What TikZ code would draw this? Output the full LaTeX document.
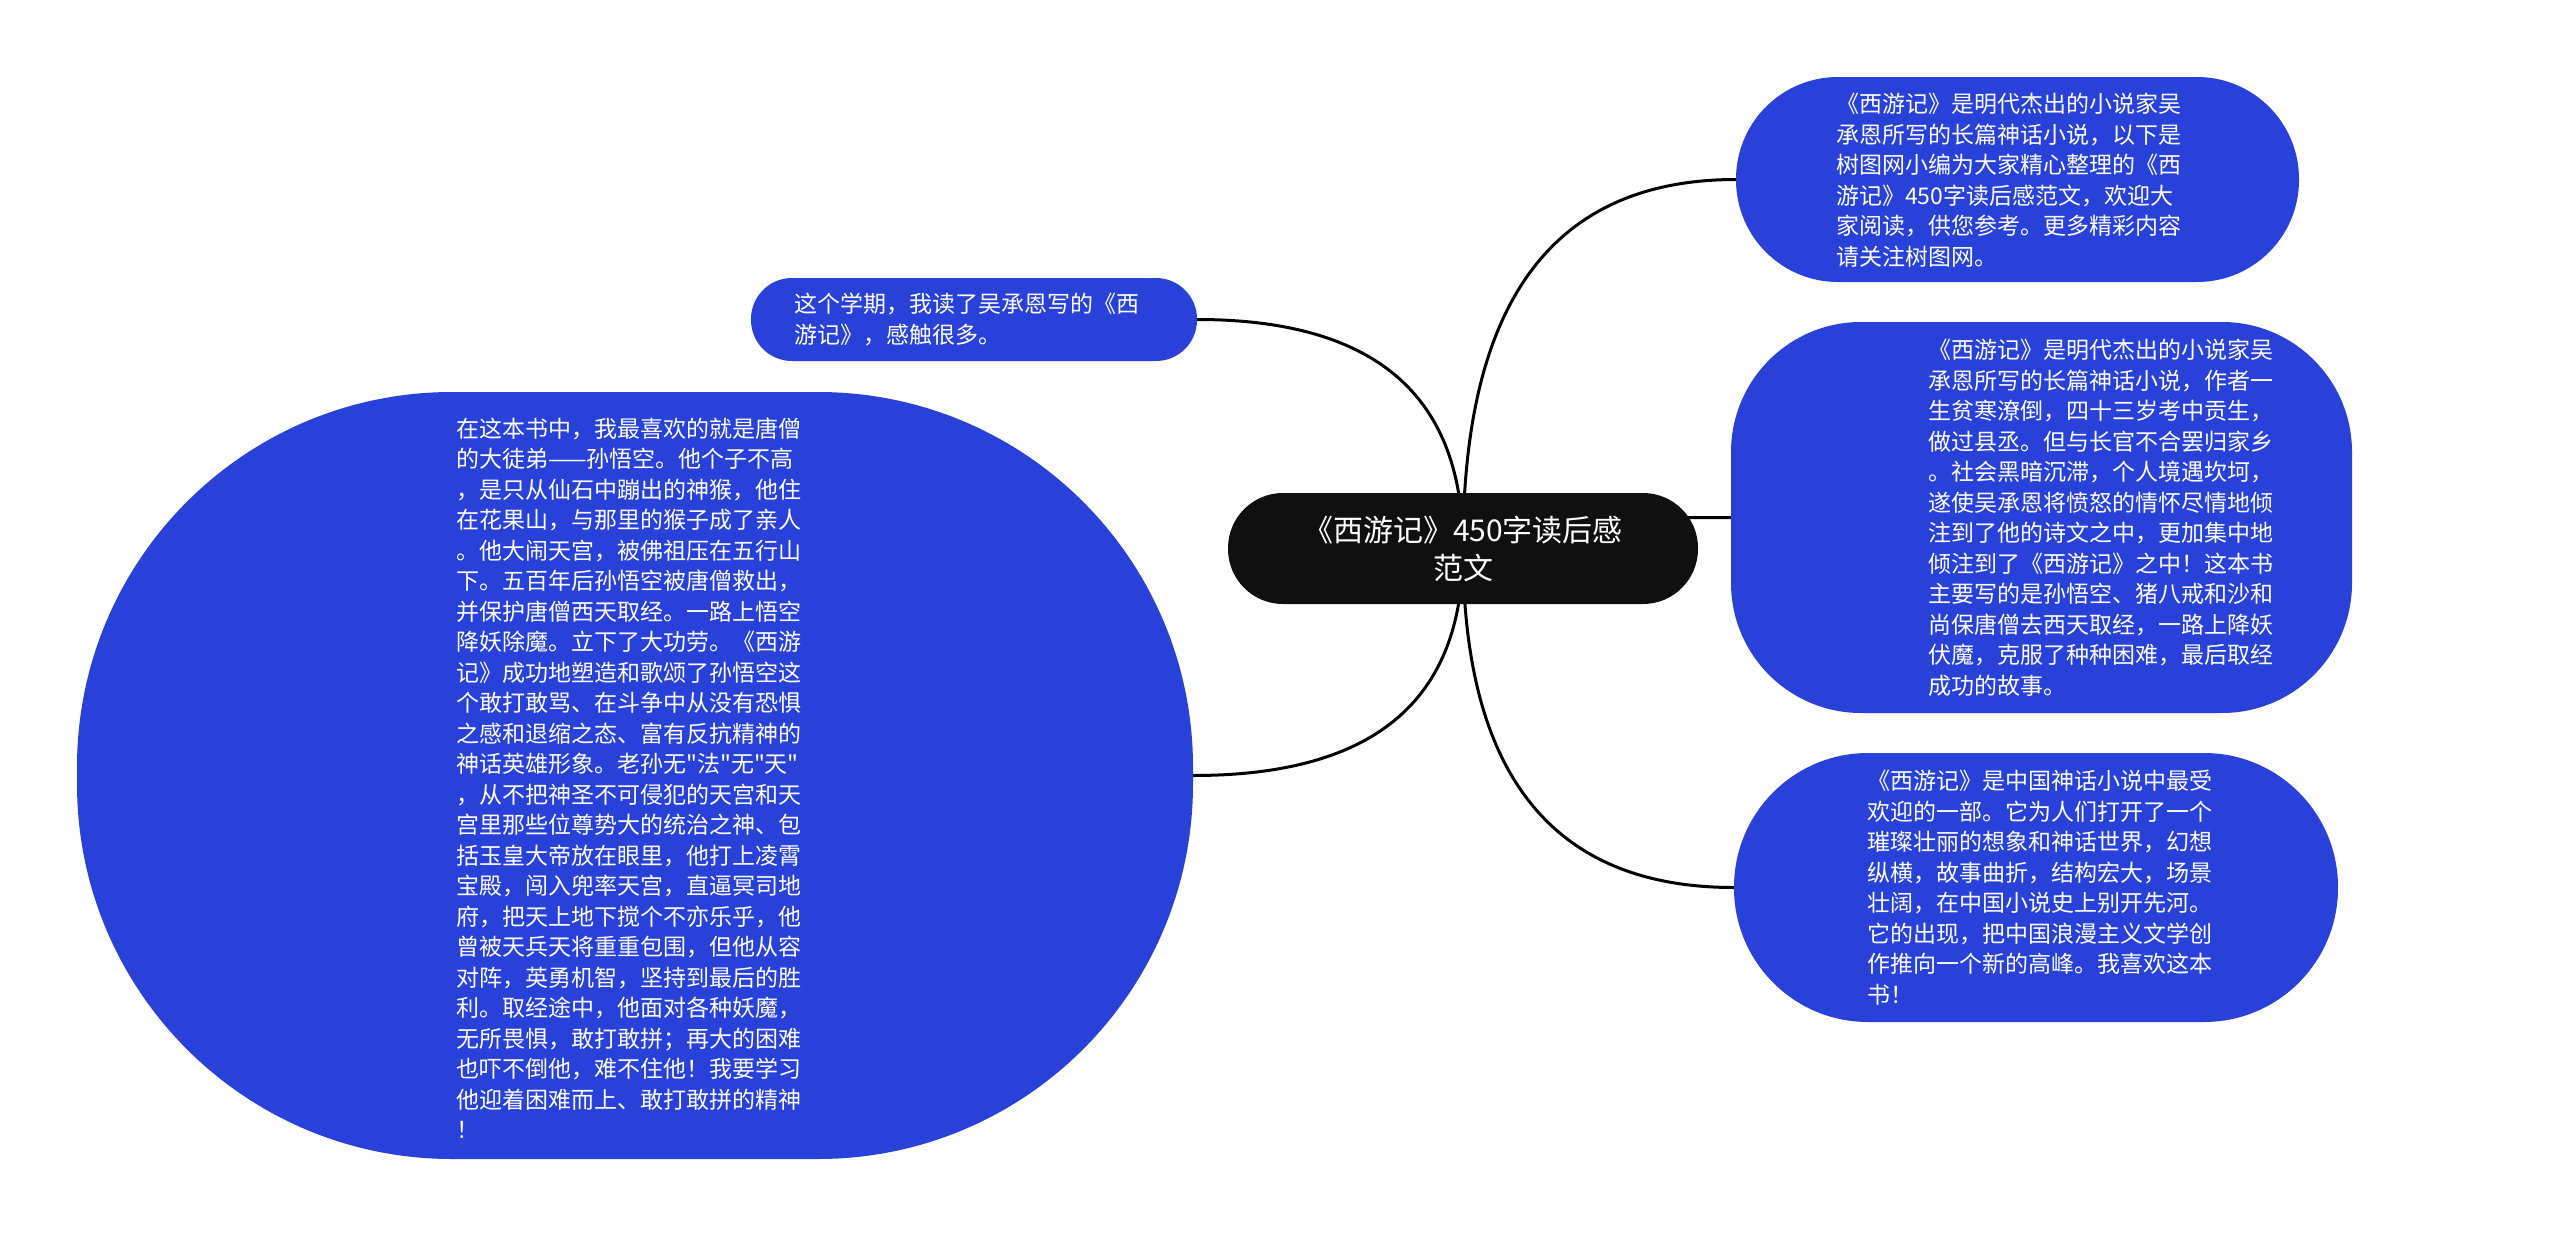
\documentclass[tikz,border=0pt]{standalone}
\usepackage{fontspec}
\setmainfont{Noto Sans CJK SC}
\newfontfamily\cjk{Noto Sans CJK SC}
\usetikzlibrary{backgrounds}
\definecolor{nodeblue}{RGB}{39,65,217}
\definecolor{rootblack}{RGB}{16,16,16}
\tikzset{
  bubble/.style={fill=nodeblue, draw=none, inner sep=0pt, shape=rectangle},
  rootbox/.style={fill=rootblack, draw=none, inner sep=0pt, text=white, align=center,
                  font=\cjk\fontsize{30}{38}\selectfont},
  bodytext/.style={text=white, align=left, inner sep=0pt, anchor=west,
                   font=\cjk\fontsize{23}{30.5}\selectfont},
  link/.style={draw=black, line width=3pt},
}
\begin{document}
\begin{tikzpicture}[x=1pt, y=-1pt]
\useasboundingbox (0,0) rectangle (2560,1237);

% root
\node[rootbox, minimum width=470pt, minimum height=111pt, rounded corners=55pt] (root) at (1463,548.5) {《西游记》450字读后感\\范文};

% top-left
\node[bubble, minimum width=446pt, minimum height=83pt, rounded corners=41pt] (tl) at (974,319.5) {};
\node[bodytext] (tlt) at (794,319.5) {这个学期，我读了吴承恩写的《西\\游记》，感触很多。};

% big left
\node[bubble, minimum width=1116pt, minimum height=767pt, rounded corners=375pt] (big) at (635,775.5) {};
\node[bodytext] (bigt) at (456,778) {在这本书中，我最喜欢的就是唐僧\\
的大徒弟——孙悟空。他个子不高\\
，是只从仙石中蹦出的神猴，他住\\
在花果山，与那里的猴子成了亲人\\
。他大闹天宫，被佛祖压在五行山\\
下。五百年后孙悟空被唐僧救出，\\
并保护唐僧西天取经。一路上悟空\\
降妖除魔。立下了大功劳。《西游\\
记》成功地塑造和歌颂了孙悟空这\\
个敢打敢骂、在斗争中从没有恐惧\\
之感和退缩之态、富有反抗精神的\\
神话英雄形象。老孙无"法"无"天"\\
，从不把神圣不可侵犯的天宫和天\\
宫里那些位尊势大的统治之神、包\\
括玉皇大帝放在眼里，他打上凌霄\\
宝殿，闯入兜率天宫，直逼冥司地\\
府，把天上地下搅个不亦乐乎，他\\
曾被天兵天将重重包围，但他从容\\
对阵，英勇机智，坚持到最后的胜\\
利。取经途中，他面对各种妖魔，\\
无所畏惧，敢打敢拼；再大的困难\\
也吓不倒他，难不住他！我要学习\\
他迎着困难而上、敢打敢拼的精神\\
！};

% top-right
\node[bubble, minimum width=563pt, minimum height=205pt, rounded corners=102pt] (tr) at (2017.5,179.5) {};
\node[bodytext] (trt) at (1836,180) {《西游记》是明代杰出的小说家吴\\
承恩所写的长篇神话小说，以下是\\
树图网小编为大家精心整理的《西\\
游记》450字读后感范文，欢迎大\\
家阅读，供您参考。更多精彩内容\\
请关注树图网。};

% middle-right
\node[bubble, minimum width=621pt, minimum height=391pt, rounded corners=130pt] (mr) at (2041.5,517.5) {};
\node[bodytext] (mrt) at (1928,518) {《西游记》是明代杰出的小说家吴\\
承恩所写的长篇神话小说，作者一\\
生贫寒潦倒，四十三岁考中贡生，\\
做过县丞。但与长官不合罢归家乡\\
。社会黑暗沉滞，个人境遇坎坷，\\
遂使吴承恩将愤怒的情怀尽情地倾\\
注到了他的诗文之中，更加集中地\\
倾注到了《西游记》之中！这本书\\
主要写的是孙悟空、猪八戒和沙和\\
尚保唐僧去西天取经，一路上降妖\\
伏魔，克服了种种困难，最后取经\\
成功的故事。};

% bottom-right
\node[bubble, minimum width=604pt, minimum height=269pt, rounded corners=134pt] (br) at (2036,887.5) {};
\node[bodytext] (brt) at (1867,887.5) {《西游记》是中国神话小说中最受\\
欢迎的一部。它为人们打开了一个\\
璀璨壮丽的想象和神话世界，幻想\\
纵横，故事曲折，结构宏大，场景\\
壮阔，在中国小说史上别开先河。\\
它的出现，把中国浪漫主义文学创\\
作推向一个新的高峰。我喜欢这本\\
书！};

% background and connectors
\begin{scope}[on background layer]
\fill[white] (0,0) rectangle (2560,1237);
\draw[link] (root.center) .. controls +(0,-203) and +(-213,0) .. (tr.west);
\draw[link] (root.center) .. controls +(0,-17) and +(-209,0) .. (mr.west);
\draw[link] (root.center) .. controls +(0,186) and +(-211,0) .. (br.west);
\draw[link] (root.center) .. controls +(0,-126) and +(207,0) .. (tl.east);
\draw[link] (root.center) .. controls +(0,125) and +(211,0) .. (big.east);
\end{scope}
\end{tikzpicture}
\end{document}
